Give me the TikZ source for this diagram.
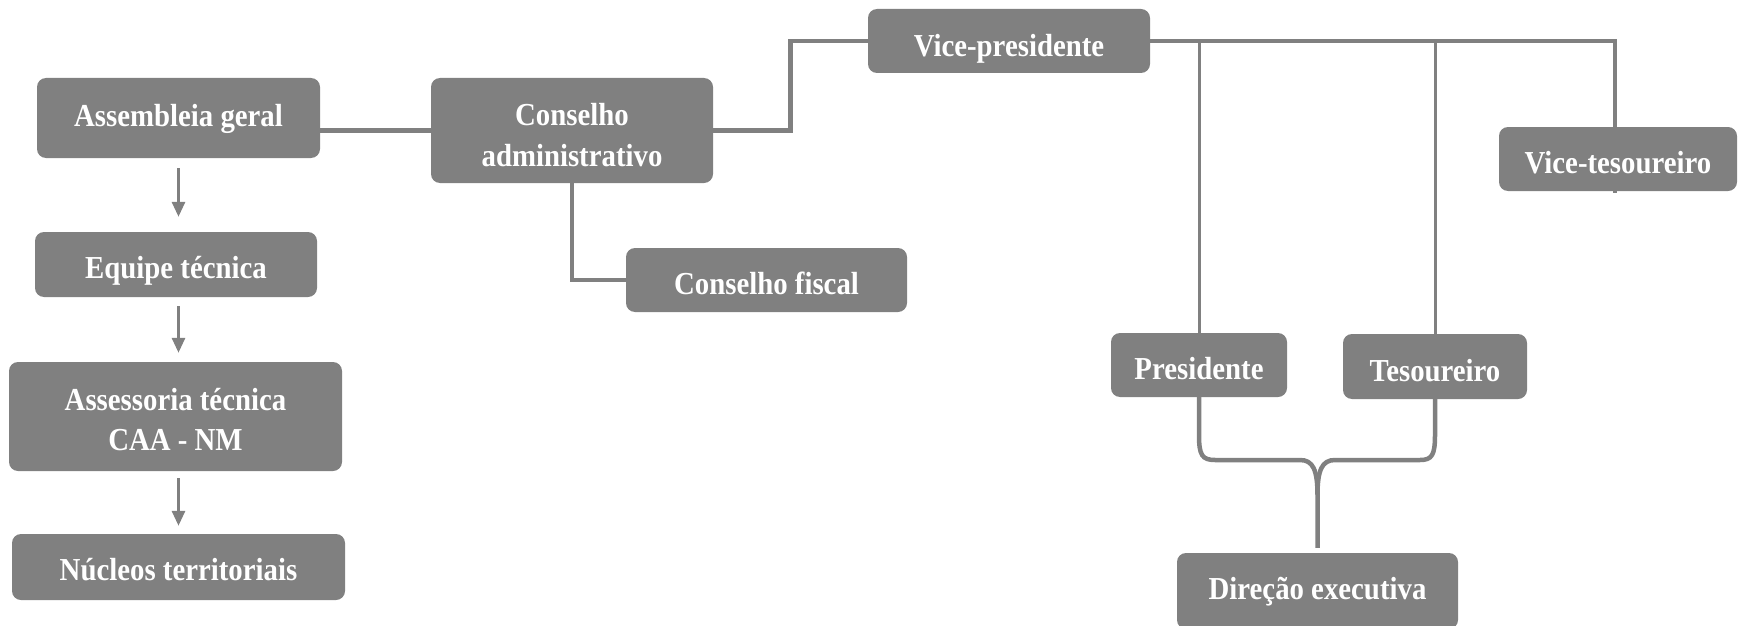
\documentclass[tikz,border=0pt]{standalone}
\usepackage{fontspec}
\setmainfont{Liberation Serif}
\newfontfamily\boxfont[FakeStretch=0.9]{Liberation Serif}
\usetikzlibrary{arrows.meta,calc,backgrounds}
\definecolor{boxgray}{HTML}{808080}
\newcommand{\twolines}[2]{\begin{tabular}[b]{@{}c@{}}#1\\#2\end{tabular}}
\begin{document}
\begin{tikzpicture}[x=1pt,y=-1pt,
  box/.style={fill=boxgray, rounded corners=9pt, text=white,
    font=\boxfont\fontsize{32}{41}\selectfont\bfseries, inner sep=0pt, text depth=0pt},
  conn/.style={draw=boxgray, line width=4.5pt},
  branch/.style={draw=boxgray, line width=3pt},
  arr/.style={draw=boxgray, line width=3pt, -{Triangle[length=15pt,width=13pt]}}]
\useasboundingbox (0,0) rectangle (1738,626);
% left column
\node[box, minimum width=283pt, minimum height=80pt, text height=16pt] (ag) at (178.5,118) {Assembleia geral};
\node[box, minimum width=282pt, minimum height=65pt, text height=28pt] (et) at (176,264.5) {Equipe técnica};
\node[box, minimum width=333pt, minimum height=109pt, text height=67pt,
  font=\boxfont\fontsize{32}{39.5}\selectfont\bfseries] (at) at (175.5,416.5) {\twolines{Assessoria técnica}{CAA - NM}};
\node[box, minimum width=333pt, minimum height=66pt, text height=27pt] (nt) at (178.5,567) {Núcleos territoriais};
% councils
\node[box, minimum width=282pt, minimum height=105pt, text height=71pt] (ca) at (572,130.5) {\twolines{Conselho}{administrativo}};
\node[box, minimum width=281pt, minimum height=64pt, text height=28pt] (cf) at (766.5,280) {Conselho fiscal};
% right part
\node[box, minimum width=282pt, minimum height=64pt, text height=31pt] (vp) at (1009,41) {Vice-presidente};
\node[box, minimum width=238pt, minimum height=64pt, text height=29pt] (vt) at (1618,159) {Vice-tesoureiro};
\node[box, minimum width=176pt, minimum height=64pt, text height=29pt] (pres) at (1199,365) {Presidente};
\node[box, minimum width=184pt, minimum height=65pt, text height=29pt] (tes) at (1435,366.5) {Tesoureiro};
\node[box, minimum width=281pt, minimum height=76pt, text height=16pt] (de) at (1317.5,591) {Direção executiva};
\coordinate (k1) at (790.5,0);
\coordinate (tip) at (1317.5,495);
\begin{scope}[on background layer]
  \draw[arr, shorten <=10pt, shorten >=15pt] (ag.south) -- (ag.south |- et.north);
  \draw[arr, shorten <=9pt, shorten >=9pt] (ag.south |- et.south) -- (ag.south |- at.north);
  \draw[arr, shorten <=7pt, shorten >=8pt] (ag.south |- at.south) -- (ag.south |- nt.north);
  \draw[conn] (ag.east |- ca.west) -- (ca.west);
  \draw[conn] (ca.east) -| (k1 |- vp.west) -- (vp.west);
  \draw[conn] (ca.south) |- (cf.west);
  \draw[conn] (vp.east) -| ($(vt.south)+(-3,2)$);
  \draw[branch] (pres.north |- vp.east) -- (pres.north);
  \draw[branch] (tes.north |- vp.east) -- (tes.north);
  \draw[conn] (pres.south) -- (1199,435) .. controls (1199,455) and (1202,460) .. (1215,460)
     -- (1300,460) .. controls (1313,460) and (1317.5,470) .. (tip) -- ($(de.north)+(0,-5)$);
  \draw[conn] (tes.south) -- (1435,435) .. controls (1435,455) and (1432,460) .. (1420,460)
     -- (1335,460) .. controls (1322,460) and (1317.5,470) .. (tip);
\end{scope}
\end{tikzpicture}
\end{document}
